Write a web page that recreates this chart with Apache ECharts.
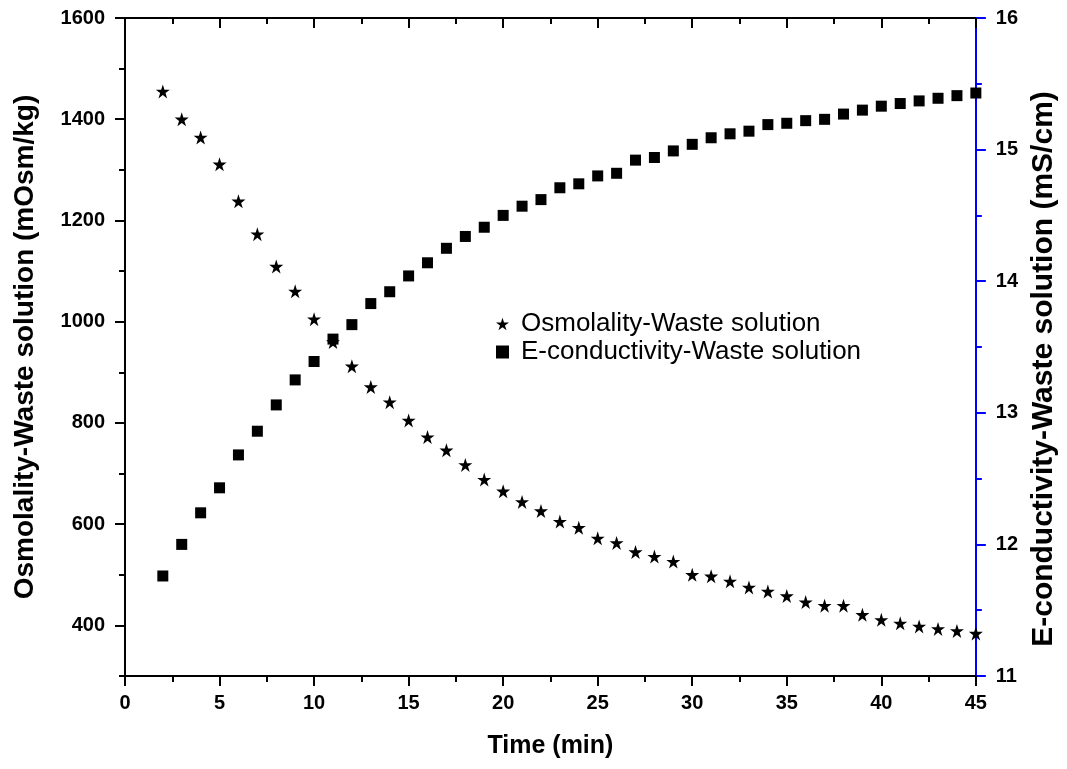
<!DOCTYPE html>
<html>
<head>
<meta charset="utf-8">
<script src="https://cdn.jsdelivr.net/npm/echarts@6/dist/echarts.min.js"></script>
<style>
  html, body { margin: 0; padding: 0; background: #fff; }
  #chart { width: 1067px; height: 769px; }
</style>
</head>
<body>
<div id="chart"></div>
<script>
// Sampling times (min)
const timeMin = [2,3,4,5,6,7,8,9,10,11,12,13,14,15,16,17,18,19,20,21,22,23,24,25,26,27,28,29,30,31,32,33,34,35,36,37,38,39,40,41,42,43,44,45];

// Osmolality of the waste solution (mOsm/kg)
const osmolality = [1455,1400,1364,1311,1238,1173,1109,1060,1005,960,912,871,841,805,772,746,717,688,665,644,626,605,593,572,563,545,536,526,500,497,487,475,467,458,446,439,439,421,411,404,398,393,389,384];

// Electrical conductivity of the waste solution (mS/cm)
const conductivity = [11.76,12.00,12.24,12.43,12.68,12.86,13.06,13.25,13.39,13.56,13.67,13.83,13.92,14.04,14.14,14.25,14.34,14.41,14.50,14.57,14.62,14.71,14.74,14.80,14.82,14.92,14.94,14.99,15.04,15.09,15.12,15.14,15.19,15.20,15.22,15.23,15.27,15.30,15.33,15.35,15.37,15.39,15.41,15.43];

// Axis tick values
const xTicks = [0,5,10,15,20,25,30,35,40,45];
const leftMajorTicks = [400,600,800,1000,1200,1400,1600];
const rightTicks = [11,12,13,14,15,16];

const seriesNames = ['Osmolality-Waste solution', 'E-conductivity-Waste solution'];

const starPath = 'path://M50,0 L61.2,34.5 L97.6,34.5 L68.2,55.9 L79.4,90.5 L50,69.1 L20.6,90.5 L31.8,55.9 L2.4,34.5 L38.8,34.5 Z';
const FONT = '"Liberation Sans", Arial, sans-serif';

const osmoPoints = timeMin.map((t, i) => [t, osmolality[i]]);
const condPoints = timeMin.map((t, i) => [t, conductivity[i]]);

const chart = echarts.init(document.getElementById('chart'), null, { renderer: 'canvas' });

const plain = v => String(v);
const tickLabel = { fontFamily: FONT, fontWeight: 'bold', fontSize: 20, color: '#000', formatter: plain };
const nameStyle = size => ({ fontFamily: FONT, fontWeight: 'bold', fontSize: size, color: '#000' });

const black = { color: '#000', width: 2 };
const blue = { color: '#0000ff', width: 2 };

chart.setOption({
  animation: false,
  backgroundColor: '#fff',
  grid: { left: 125, right: 89, top: 18, bottom: 93, containLabel: false },
  legend: {
    orient: 'vertical',
    left: 491,
    top: 306,
    itemWidth: 13,
    itemHeight: 13,
    itemGap: 2,
    textStyle: { fontFamily: FONT, fontSize: 26, lineHeight: 26, color: '#000', padding: [0, 0, 0, 7] },
    data: [
      { name: seriesNames[0], icon: starPath },
      { name: seriesNames[1], icon: 'rect' }
    ]
  },
  xAxis: [
    {
      type: 'value', position: 'bottom', min: 0, max: 45, interval: 5,
      name: 'Time (min)', nameLocation: 'middle', nameGap: 58, nameTextStyle: nameStyle(25),
      axisLine: { show: true, onZero: false, lineStyle: black },
      axisTick: { show: true, inside: false, length: 10, lineStyle: black },
      minorTick: { show: true, splitNumber: 2, length: 6, lineStyle: black },
      axisLabel: { ...tickLabel, margin: 17, customValues: xTicks },
      splitLine: { show: false }
    },
    {
      type: 'value', position: 'top', min: 0, max: 45, interval: 5,
      axisLine: { show: true, onZero: false, lineStyle: black },
      axisTick: { show: true, inside: true, length: 10, lineStyle: black },
      minorTick: { show: true, splitNumber: 2, length: 6, lineStyle: black },
      axisLabel: { show: false },
      splitLine: { show: false }
    }
  ],
  yAxis: [
    {
      type: 'value', position: 'left', min: 300, max: 1600,
      name: 'Osmolality-Waste solution (mOsm/kg)', nameLocation: 'middle', nameGap: 86,
      nameTextStyle: nameStyle(28),
      axisLine: { show: true, onZero: false, lineStyle: black },
      axisTick: { show: true, inside: false, length: 10, customValues: leftMajorTicks, lineStyle: black },
      axisLabel: { ...tickLabel, margin: 20, customValues: leftMajorTicks },
      splitLine: { show: false }
    },
    {
      type: 'value', position: 'right', min: 11, max: 16, interval: 1,
      name: 'E-conductivity-Waste solution (mS/cm)', nameLocation: 'middle', nameGap: 53,
      nameRotate: 90,
      nameTextStyle: { ...nameStyle(30), padding: [0, 44, 0, 0] },
      axisLine: { show: true, onZero: false, lineStyle: blue },
      axisTick: { show: true, inside: false, length: 10, lineStyle: blue },
      minorTick: { show: true, splitNumber: 2, length: 6, lineStyle: blue },
      axisLabel: { ...tickLabel, margin: 20, customValues: rightTicks },
      splitLine: { show: false }
    },
    {
      // short ticks between the labelled osmolality values
      type: 'value', position: 'left', min: 300, max: 1600, interval: 100,
      axisLine: { show: false },
      axisTick: { show: true, inside: false, length: 6, lineStyle: black },
      axisLabel: { show: false },
      splitLine: { show: false }
    }
  ],
  series: [
    {
      name: seriesNames[0], type: 'scatter', xAxisIndex: 0, yAxisIndex: 0,
      symbol: starPath, symbolSize: 14,
      itemStyle: { color: '#000', opacity: 1 },
      data: osmoPoints, clip: false
    },
    {
      name: seriesNames[1], type: 'scatter', xAxisIndex: 0, yAxisIndex: 1,
      symbol: 'rect', symbolSize: 11,
      itemStyle: { color: '#000', opacity: 1 },
      data: condPoints, clip: false
    }
  ]
});
</script>
</body>
</html>
